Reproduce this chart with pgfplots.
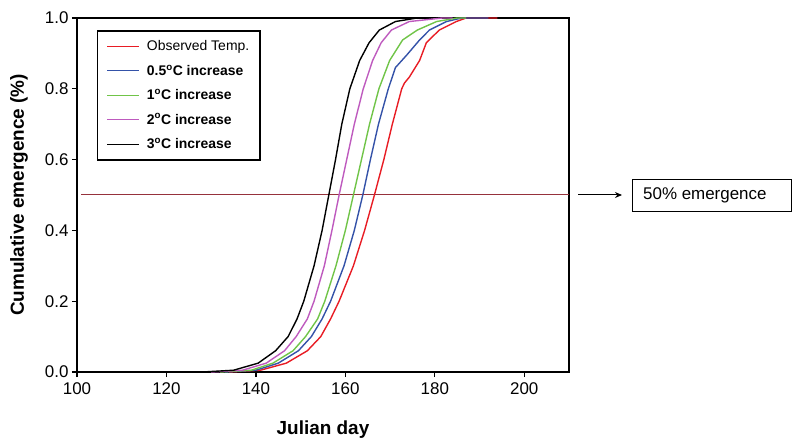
\documentclass[border=0pt]{standalone}
\usepackage{fontspec}
\setmainfont{Liberation Sans}
\usepackage{pgfplots}
\pgfplotsset{compat=1.18}
\usetikzlibrary{arrows.meta}
\definecolor{obsred}{RGB}{232,28,36}
\definecolor{cblue}{RGB}{52,82,168}
\definecolor{cgreen}{RGB}{112,196,72}
\definecolor{cmag}{RGB}{190,90,190}
\definecolor{refline}{RGB}{150,50,60}
\begin{document}
\begin{tikzpicture}
\useasboundingbox (0bp,0bp) rectangle (794bp,448bp);
\begin{axis}[
  at={(77bp,76bp)}, anchor=south west,
  scale only axis, width=492bp, height=354bp,
  xmin=100, xmax=210, ymin=0, ymax=1,
  xtick={100,120,140,160,180,200},
  ytick={0,0.2,0.4,0.6,0.8,1.0},
  tick align=outside, xtick pos=bottom, ytick pos=left,
  major tick length=5bp,
  axis line style={line width=1.5bp},
  tick style={line width=1.2bp, black},
  /pgf/number format/assume math mode=true,
  yticklabel style={/pgf/number format/.cd, fixed, fixed zerofill, precision=1},
  xticklabel style={/pgf/number format/.cd, fixed, precision=0, /tikz/.cd, yshift=-2bp},
  ticklabel style={font=\fontsize{17}{20}\selectfont},
  xlabel={Julian day},
  ylabel={Cumulative emergence (\%)},
  xlabel style={font=\fontsize{19}{22}\selectfont\bfseries, at={(axis description cs:0.5,-0.162)}, anchor=center},
  ylabel style={font=\fontsize{19}{22}\selectfont\bfseries, at={(axis description cs:-0.118,0.5)}, anchor=center, rotate=0},
  legend style={at={(axis description cs:0.0406,0.966)}, anchor=north west,
    draw=black, line width=1.5bp, font=\fontsize{14}{16}\selectfont,
    row sep=8.5bp, column sep=5bp, inner xsep=9bp, inner ysep=8bp},
  legend cell align=left,
  legend image code/.code={\draw[#1, line width=1.2bp] (0,0) -- (32bp,0);},
  clip=false,
]
\addplot[refline, line width=1bp, forget plot] coordinates {(101,0.5) (210,0.5)};

\addplot[obsred, line width=1.4bp] coordinates {
(134,0) (141,0.005) (146.8,0.025) (151.5,0.06) (154.5,0.1) (156.7,0.15) (158.6,0.2)
(161.8,0.3) (164.3,0.4) (166.5,0.5) (168.6,0.6) (170.5,0.7) (172.6,0.8) (173.2,0.816)
(174.3,0.833) (176.6,0.88) (178.1,0.93) (181,0.966) (184.8,0.99) (187,1) (194,1)};
\addlegendentry{Observed Temp.}

\addplot[cblue, line width=1.4bp] coordinates {
(133,0) (140,0.005) (145,0.025) (149.5,0.06) (152.4,0.1) (154.8,0.15) (156.7,0.2)
(159.7,0.3) (162,0.4) (163.9,0.5) (165.6,0.6) (167.4,0.7) (169.6,0.8) (171.2,0.86)
(173.7,0.895) (176.6,0.938) (178.8,0.966) (182.6,0.99) (186,1) (192,1)};
\addlegendentry{\textbf{0.5\textsuperscript{o}C increase}}

\addplot[cgreen, line width=1.4bp] coordinates {
(132,0) (139,0.005) (143.8,0.025) (148.3,0.06) (151.1,0.1) (153.8,0.15) (155.4,0.2)
(157.9,0.3) (160,0.4) (161.8,0.5) (163.6,0.6) (165.4,0.7) (167.5,0.8) (169.9,0.88)
(172.8,0.938) (176.1,0.966) (180.4,0.99) (185,1) (187,1)};
\addlegendentry{\textbf{1\textsuperscript{o}C increase}}

\addplot[cmag, line width=1.4bp] coordinates {
(130,0) (137,0.005) (142.3,0.025) (146.4,0.06) (149,0.1) (151.5,0.15) (153,0.2)
(155.3,0.3) (157,0.4) (158.6,0.5) (160.3,0.6) (162,0.7) (164,0.8) (166.1,0.88)
(168,0.93) (170.3,0.966) (174.3,0.99) (181.7,1) (184,1)};
\addlegendentry{\textbf{2\textsuperscript{o}C increase}}

\addplot[black, line width=1.4bp] coordinates {
(128,0) (135,0.005) (140.5,0.025) (144.4,0.06) (147.2,0.1) (149.2,0.15) (150.7,0.2)
(153,0.3) (154.8,0.4) (156.3,0.5) (157.8,0.6) (159.2,0.7) (161,0.8) (163.2,0.88)
(165.3,0.93) (167.6,0.966) (171.2,0.99) (176,1) (178,1)};
\addlegendentry{\textbf{3\textsuperscript{o}C increase}}
\end{axis}
\draw[-{Stealth[length=7bp,width=6bp]}, line width=1bp] (578bp,253bp) -- (622bp,253bp);
\node[draw, line width=0.8bp, minimum width=159bp, minimum height=32bp, anchor=west,
  inner sep=0pt] at (632bp,253bp) {};
\node[anchor=west, font=\fontsize{17}{20}\selectfont, inner sep=0pt] at (643bp,253bp) {50\% emergence};
\end{tikzpicture}
\end{document}
